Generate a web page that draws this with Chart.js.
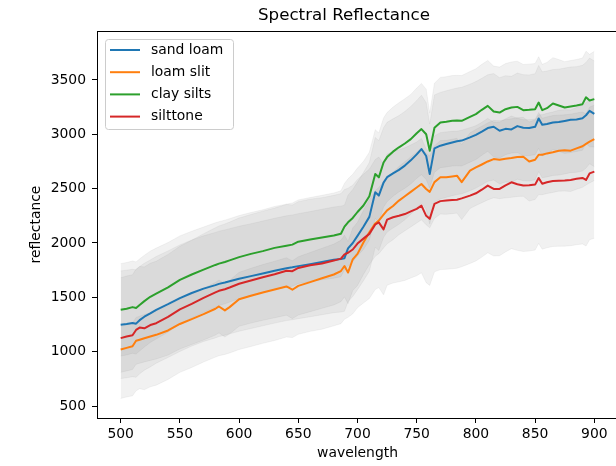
<!DOCTYPE html>
<html>
<head>
<meta charset="utf-8">
<title>Spectral Reflectance</title>
<script src="https://cdn.jsdelivr.net/npm/chart.js@4.4.1/dist/chart.umd.min.js"></script>
<style>
  html, body { margin: 0; padding: 0; background: #fff; overflow: hidden; }
  #wrap { width: 688px; height: 466px; }
</style>
</head>
<body>
<div id="wrap"><canvas id="chart" width="688" height="466"></canvas></div>
<script>
// wavelengths (nm)
const wavelength = [500,505,510,513,516,520,525,530,540,550,560,570,580,583,588,592,600,610,620,630,
  640,645,650,660,670,680,686,689,692,696,700,705,710,715,718,722,725,730,735,740,
  745,750,754,758,761,765,770,775,780,784,788,795,800,805,810,815,820,825,830,835,
  840,845,850,853,856,860,865,870,875,880,885,890,893,896,900];

// mean reflectance per soil type
const sandLoam = [1248,1255,1264,1258,1290,1322,1352,1385,1437,1492,1540,1580,1612,1624,1636,1648,1671,1695,1720,1745,
  1768,1776,1787,1805,1825,1845,1852,1860,1950,2000,2065,2150,2240,2466,2436,2555,2605,2640,2672,2712,
  2760,2815,2864,2800,2634,2870,2895,2910,2925,2935,2942,2971,2995,3025,3057,3069,3032,3050,3045,3075,
  3060,3058,3069,3145,3087,3095,3108,3112,3122,3133,3136,3148,3175,3215,3188];
const loamSlit = [1020,1035,1050,1100,1110,1124,1140,1155,1195,1255,1300,1345,1395,1416,1380,1410,1482,1515,1545,1572,
  1600,1570,1605,1640,1675,1710,1742,1788,1728,1850,1900,2005,2099,2180,2206,2260,2300,2340,2390,2430,
  2470,2510,2543,2497,2470,2560,2604,2604,2612,2619,2560,2665,2695,2722,2750,2772,2766,2775,2781,2790,
  2793,2750,2766,2812,2812,2824,2835,2849,2852,2849,2870,2890,2912,2932,2956];
const claySilts = [1385,1395,1410,1402,1430,1465,1505,1535,1592,1660,1710,1755,1798,1810,1825,1840,1870,1900,1925,1955,
  1975,1985,2012,2032,2050,2068,2085,2150,2190,2230,2285,2345,2430,2634,2604,2740,2790,2840,2880,2915,
  2955,3010,3048,3000,2849,3060,3108,3115,3124,3126,3124,3160,3185,3225,3261,3209,3200,3231,3246,3252,
  3222,3225,3231,3292,3222,3240,3283,3265,3246,3255,3265,3277,3340,3310,3323];
const silttone = [1125,1140,1151,1200,1222,1215,1245,1262,1320,1390,1440,1495,1545,1560,1575,1590,1625,1655,1685,1712,
  1745,1740,1770,1795,1812,1838,1856,1895,1910,1940,1995,2040,2084,2170,2190,2125,2215,2237,2250,2266,
  2290,2314,2344,2250,2222,2360,2385,2390,2395,2398,2410,2436,2457,2490,2528,2497,2497,2530,2558,2540,
  2528,2530,2537,2598,2545,2558,2570,2573,2575,2580,2590,2598,2580,2640,2656];

// standard deviation per soil type (shaded bands)
const sandLoamStd = [495,495,494,494,493,492,492,491,490,490,488,486,485,485,484,484,483,482,482,482,
  482,482,483,484,485,486,487,488,490,492,495,498,500,505,505,505,505,502,500,498,
  496,495,495,490,460,492,490,490,490,490,490,490,490,490,490,489,489,489,488,488,
  488,488,488,488,487,487,487,487,487,486,486,486,486,486,486];
const loamSlitStd = [210,212,214,215,216,218,220,222,226,230,234,238,242,243,245,246,248,252,256,260,
  264,266,268,272,276,280,282,284,286,288,290,294,298,302,304,306,308,310,314,318,
  322,326,330,330,330,334,338,340,342,344,345,348,350,352,354,356,358,360,361,362,
  363,364,366,367,368,369,370,372,374,375,376,378,379,380,381];
const claySiltsStd = [425,425,424,424,423,422,420,418,412,405,398,392,388,386,385,384,382,380,380,381,
  382,383,384,386,388,392,395,398,400,402,405,405,405,408,408,410,410,410,410,412,
  412,415,420,415,345,410,415,415,416,416,416,417,418,418,418,418,418,419,419,420,
  420,420,420,421,421,421,422,422,422,423,423,424,424,425,440];
const silttoneStd = [555,556,557,560,562,565,568,570,575,580,585,590,595,597,600,602,605,607,608,609,
  610,610,610,608,605,600,598,596,594,592,590,592,595,598,600,602,603,605,607,610,
  612,615,618,615,612,625,630,632,632,630,628,625,622,620,618,616,614,612,610,608,
  606,604,602,602,602,602,602,603,604,605,606,607,608,610,612];

const seriesNames = ['sand loam', 'loam slit', 'clay silts', 'silttone'];
const xTicks = [500, 550, 600, 650, 700, 750, 800, 850, 900];
const yTicks = [500, 1000, 1500, 2000, 2500, 3000, 3500];
const chartTitle = 'Spectral Reflectance';

const means = [sandLoam, loamSlit, claySilts, silttone];
const stds = [sandLoamStd, loamSlitStd, claySiltsStd, silttoneStd];
const colors = ['#1f77b4', '#ff7f0e', '#2ca02c', '#d62728'];
const bandColor = 'rgba(128,128,128,0.11)';
const FONT = '"DejaVu Sans", sans-serif';

const pts = (arr) => wavelength.map((x, i) => ({ x, y: arr[i] }));

const datasets = [];
// std bands (behind)
means.forEach((m, k) => {
  const up = m.map((v, i) => v + stds[k][i]);
  const lo = m.map((v, i) => v - stds[k][i]);
  datasets.push({ data: pts(up), fill: '+1', backgroundColor: bandColor, borderColor: bandColor,
    borderWidth: 0.8, pointRadius: 0, order: 10, isBand: true });
  datasets.push({ data: pts(lo), fill: false, borderColor: bandColor,
    borderWidth: 0.8, pointRadius: 0, order: 10, isBand: true });
});
// mean lines, last one on top
means.forEach((m, k) => {
  datasets.push({ label: seriesNames[k], data: pts(m), borderColor: colors[k], borderWidth: 2,
    pointRadius: 0, fill: false, order: 4 - k, borderJoinStyle: 'round' });
});

// title, frame and legend like matplotlib
const decor = {
  id: 'decor',
  afterDatasetsDraw(chart) {
    const { ctx, chartArea: a } = chart;
    ctx.save();
    ctx.strokeStyle = '#000';
    ctx.lineWidth = 1;
    ctx.strokeRect(Math.round(a.left) + 0.5, Math.round(a.top) + 0.5,
      Math.round(a.right - a.left), Math.round(a.bottom - a.top));

    // legend box
    const bx = a.left + 8, by = a.top + 8, bw = 128, bh = 90;
    ctx.beginPath();
    ctx.roundRect(bx + 0.5, by + 0.5, bw, bh, 3);
    ctx.fillStyle = 'rgba(255,255,255,0.8)';
    ctx.fill();
    ctx.strokeStyle = '#cccccc';
    ctx.stroke();
    ctx.font = '13.9px ' + FONT;
    ctx.textBaseline = 'middle';
    ctx.textAlign = 'left';
    seriesNames.forEach((name, k) => {
      const y = by + 11 + k * 22.2;
      ctx.beginPath();
      ctx.moveTo(bx + 5, y);
      ctx.lineTo(bx + 35, y);
      ctx.strokeStyle = colors[k];
      ctx.lineWidth = 2;
      ctx.stroke();
      ctx.fillStyle = '#000';
      ctx.fillText(name, bx + 46, y);
    });
    ctx.restore();
  },
  afterDraw(chart) {
    const { ctx } = chart;
    ctx.save();
    ctx.font = '16.7px ' + FONT;
    ctx.fillStyle = '#000';
    ctx.textAlign = 'center';
    ctx.textBaseline = 'middle';
    ctx.fillText(chartTitle, chart.width / 2, 16);
    ctx.restore();
  }
};

new Chart(document.getElementById('chart'), {
  type: 'line',
  data: { datasets },
  plugins: [decor],
  options: {
    responsive: false,
    animation: false,
    events: [],
    layout: { padding: { left: 0, right: 70, top: 31, bottom: 0 } },
    plugins: {
      legend: { display: false },
      tooltip: { enabled: false },
      filler: { drawTime: 'beforeDatasetsDraw' }
    },
    scales: {
      x: {
        type: 'linear', min: 480, max: 920,
        afterBuildTicks: s => { s.ticks = xTicks.map(v => ({ value: v })); },
        afterFit: s => { s.height = 48; },
        ticks: { font: { family: FONT, size: 13.9 }, color: '#000', padding: 3, maxRotation: 0,
          autoSkip: false, callback: v => String(v) },
        grid: { drawOnChartArea: false, drawTicks: true, tickLength: 5, color: '#000' },
        border: { display: false },
        title: { display: true, text: 'wavelength', color: '#000',
          font: { family: FONT, size: 13.9 }, padding: { top: 0, bottom: 4.7 } }
      },
      y: {
        type: 'linear', min: 390, max: 3950,
        afterBuildTicks: s => { s.ticks = yTicks.map(v => ({ value: v })); },
        afterFit: s => { s.width = 97; },
        ticks: { font: { family: FONT, size: 13.9 }, color: '#000', padding: 6,
          autoSkip: false, callback: v => String(v) },
        grid: { drawOnChartArea: false, drawTicks: true, tickLength: 5, color: '#000' },
        border: { display: false },
        title: { display: true, text: 'reflectance', color: '#000',
          font: { family: FONT, size: 13.9 }, padding: { top: 27.7, bottom: 0 } }
      }
    }
  }
});
</script>
</body>
</html>
